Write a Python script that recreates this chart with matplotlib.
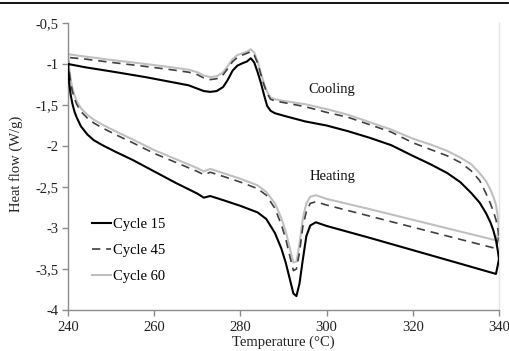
import matplotlib
matplotlib.use("Agg")
import matplotlib.pyplot as plt
from matplotlib.ticker import FuncFormatter, MultipleLocator
from matplotlib.lines import Line2D

plt.rcParams['font.family'] = ['Liberation Serif', 'DejaVu Serif']

# ---------------- data ----------------
heat_T = [240, 240.3, 240.6, 241, 241.5, 242, 243, 244.5, 246, 248, 251, 255, 260, 265, 270,
          271.5, 273, 276, 280, 284, 286, 288, 289.5, 290.5, 291.5, 292.3, 293, 293.7, 294.5,
          295.3, 296.2, 297.5, 300, 310, 320, 330, 339.3, 340]
heat_c15 = [-1.01, -1.24, -1.37, -1.48, -1.58, -1.65, -1.76, -1.86, -1.93, -1.99, -2.07, -2.17,
            -2.31, -2.45, -2.58, -2.63, -2.61, -2.66, -2.73, -2.81, -2.89, -3.06, -3.25, -3.42,
            -3.63, -3.80, -3.83, -3.68, -3.38, -3.10, -2.97, -2.93, -2.975, -3.12, -3.27, -3.42,
            -3.56, -3.38]
heat_c45 = [-0.93, -1.10, -1.22, -1.33, -1.42, -1.49, -1.58, -1.66, -1.72, -1.78, -1.86, -1.96,
            -2.09, -2.20, -2.31, -2.35, -2.32, -2.37, -2.44, -2.52, -2.60, -2.76, -2.96, -3.13,
            -3.35, -3.52, -3.50, -3.30, -2.98, -2.80, -2.70, -2.68, -2.72, -2.855, -2.99, -3.125,
            -3.25, -3.10]
heat_c60 = [-0.89, -1.06, -1.18, -1.29, -1.38, -1.45, -1.54, -1.62, -1.68, -1.74, -1.82, -1.92,
            -2.05, -2.16, -2.27, -2.31, -2.28, -2.33, -2.40, -2.48, -2.56, -2.70, -2.88, -3.04,
            -3.25, -3.42, -3.41, -3.20, -2.88, -2.70, -2.62, -2.60, -2.645, -2.77, -2.90, -3.03,
            -3.15, -3.02]

cool_T = [340, 339.7, 339.3, 338.7, 338, 337, 335.5, 333.5, 331, 328, 324, 320, 315, 310, 305,
          300, 295, 290, 288, 287, 286.2, 285.5, 284.7, 284, 283.2, 282.4, 281.5, 280.5, 279.3,
          278.2, 277, 276, 274.5, 273, 271.5, 270, 268, 264, 258, 250, 244, 240]
cool_c15 = [-3.38, -3.27, -3.15, -3.03, -2.93, -2.82, -2.69, -2.57, -2.44, -2.33, -2.22, -2.12,
            -1.99, -1.90, -1.82, -1.75, -1.70, -1.63, -1.60, -1.57, -1.51, -1.38, -1.22, -1.10,
            -0.98, -0.93, -0.97, -0.99, -1.02, -1.08, -1.20, -1.28, -1.33, -1.34, -1.33, -1.30,
            -1.26, -1.22, -1.16, -1.09, -1.04, -1.00]
cool_c45 = [-3.10, -3.00, -2.90, -2.80, -2.70, -2.58, -2.42, -2.30, -2.20, -2.12, -2.04, -1.96,
            -1.83, -1.74, -1.65, -1.59, -1.52, -1.47, -1.45, -1.43, -1.36, -1.26, -1.12, -0.99,
            -0.89, -0.85, -0.87, -0.89, -0.92, -0.97, -1.06, -1.13, -1.18, -1.19, -1.17, -1.13,
            -1.10, -1.07, -1.03, -0.98, -0.94, -0.92]
cool_c60 = [-3.02, -2.85, -2.72, -2.62, -2.53, -2.43, -2.33, -2.22, -2.14, -2.06, -1.98, -1.91,
            -1.80, -1.71, -1.62, -1.55, -1.49, -1.45, -1.43, -1.41, -1.34, -1.24, -1.10, -0.97,
            -0.86, -0.82, -0.85, -0.87, -0.89, -0.94, -1.03, -1.10, -1.15, -1.16, -1.14, -1.10,
            -1.07, -1.04, -1.00, -0.95, -0.91, -0.88]

series_labels = ['Cycle 15', 'Cycle 45', 'Cycle 60']
x_ticks = [240, 260, 280, 300, 320, 340]

# ---------------- figure ----------------
fig = plt.figure(figsize=(5.09, 3.51), dpi=100)
ax = fig.add_axes([68 / 509, 1 - 310 / 351, (499 - 68) / 509, (310 - 23) / 351])

styles = [
    dict(color='black', lw=1.5, ls='-'),
    dict(color='#404040', lw=1.2, ls=(0, (5, 3.5))),
    dict(color='#c0c0c0', lw=1.5, ls='-'),
]
heats = [heat_c15, heat_c45, heat_c60]
cools = [cool_c15, cool_c45, cool_c60]
order = [2, 1, 0]
for i in order:
    ax.plot(heat_T, heats[i], **styles[i], zorder=3 - i, solid_joinstyle='round')
    ax.plot(cool_T, cools[i], **styles[i], zorder=3 - i, solid_joinstyle='round')

ax.set_xlim(240, 340)
ax.set_ylim(-4, -0.5)
ax.set_xticks(x_ticks)
ax.yaxis.set_major_locator(MultipleLocator(0.5))
ax.yaxis.set_major_formatter(FuncFormatter(lambda v, p: ('%g' % v).replace('.', ',')))

ax.spines['top'].set_visible(False)
ax.spines['left'].set_color('#8c8c8c')
ax.spines['bottom'].set_color('#8c8c8c')
ax.spines['right'].set_color('#e4e4e4')
for s in ['left', 'bottom', 'right']:
    ax.spines[s].set_linewidth(1.0)

ax.tick_params(axis='both', direction='out', length=4, width=1.0, color='#8c8c8c',
               labelsize=10.5, labelcolor='#222222')
ax.tick_params(axis='x', pad=4)
ax.tick_params(axis='y', pad=3)

ax.set_xlabel('Temperature (°C)', fontsize=10.5, color='#222222')
ax.set_ylabel('Heat flow (W/g)', fontsize=10.5, color='#222222')
ax.xaxis.set_label_coords(0.499, -0.09)
ax.yaxis.set_label_coords(-0.105, 0.51)

ax.text(301.3, -1.317, 'Cooling', fontsize=10.5, ha='center', va='center', color='#111111')
ax.text(301.3, -2.378, 'Heating', fontsize=10.5, ha='center', va='center', color='#111111')

handles = [Line2D([], [], **styles[i]) for i in range(3)]
ax.legend(handles, series_labels, loc='upper left', bbox_to_anchor=(0.055, 0.32),
          frameon=False, fontsize=10.5, handlelength=1.3, handletextpad=0.15,
          labelspacing=0.87, borderaxespad=0, borderpad=0)

fig.add_artist(Line2D([0, 508 / 509], [1 - 2.5 / 351, 1 - 2.5 / 351], color='black', lw=1.3,
                      transform=fig.transFigure))

fig.savefig('out.png', dpi=100)
